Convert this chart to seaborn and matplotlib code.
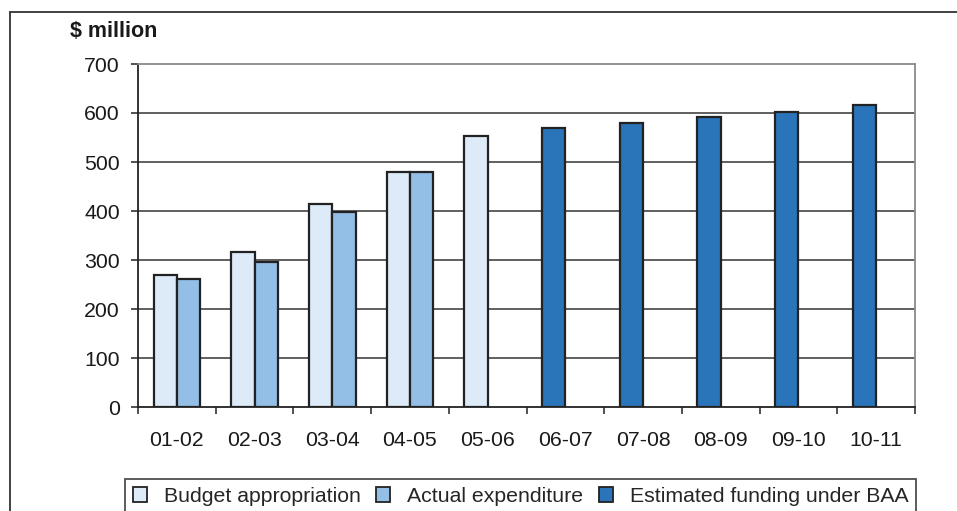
import matplotlib
matplotlib.use("Agg")
import matplotlib.pyplot as plt
from matplotlib.lines import Line2D
from matplotlib.patches import Patch
import seaborn as sns
import pandas as pd

# Financial years shown on the x axis
years = ["01-02", "02-03", "03-04", "04-05", "05-06",
         "06-07", "07-08", "08-09", "09-10", "10-11"]

# $ million by series (None where a series has no figure for that year)
budget_appropriation = [269, 316, 414, 480, 554, None, None, None, None, None]
actual_expenditure = [261, 296, 398, 480, None, None, None, None, None, None]
estimated_funding = [None, None, None, None, None, 569, 580, 592, 603, 616]

series_names = ["Budget appropriation", "Actual expenditure",
                "Estimated funding under BAA"]
series_colors = {"Budget appropriation": "#DDEAF7",
                 "Actual expenditure": "#93BFE6",
                 "Estimated funding under BAA": "#2A74BA"}

# Budget and estimated figures share the left slot, actual spending sits right
rows = []
for i, y in enumerate(years):
    if budget_appropriation[i] is not None:
        rows.append((y, "left", budget_appropriation[i], series_names[0]))
    if estimated_funding[i] is not None:
        rows.append((y, "left", estimated_funding[i], series_names[2]))
    if actual_expenditure[i] is not None:
        rows.append((y, "right", actual_expenditure[i], series_names[1]))
df = pd.DataFrame(rows, columns=["year", "slot", "value", "series"])
kind_of = {(r.year, r.slot): r.series for r in df.itertuples()}

sns.set_style("white")
plt.rcParams["font.family"] = ["Liberation Sans", "DejaVu Sans"]

W, H = 957, 511
fig = plt.figure(figsize=(W / 100, H / 100), dpi=100)
ax = fig.add_axes([138 / W, 1 - 407 / H, (915 - 138) / W, (407 - 64) / H])

sns.barplot(data=df, x="year", y="value", hue="slot", order=years,
            hue_order=["left", "right"], dodge=True, width=0.6, gap=0,
            palette=["#DDEAF7", "#93BFE6"], edgecolor="#222222",
            linewidth=1.6, saturation=1, legend=False, ax=ax, zorder=3)

for p in ax.patches:
    c = p.get_x() + p.get_width() / 2
    idx = int(round(c))
    slot = "left" if c < idx else "right"
    kind = kind_of.get((years[idx], slot))
    if kind is not None:
        p.set_facecolor(series_colors[kind])

ax.set_ylim(0, 700)
ax.set_xlim(-0.5, len(years) - 0.5)
ax.set_yticks(range(0, 701, 100))
ax.set_xlabel("")
ax.set_ylabel("")

# Horizontal gridlines
for v in range(100, 700, 100):
    ax.axhline(v, color="#444444", lw=1.2, zorder=1)

for side in ["top", "right"]:
    ax.spines[side].set_color("#8a8a8a")
    ax.spines[side].set_linewidth(1.3)
for side in ["left", "bottom"]:
    ax.spines[side].set_color("#222222")
    ax.spines[side].set_linewidth(1.3)

ax.tick_params(axis="y", which="major", direction="out", length=5, width=1.1,
               color="#222222", labelsize=15.3, labelcolor="#1a1a1a", pad=8,
               left=True)
ax.tick_params(axis="x", which="major", length=0, labelsize=15.3,
               labelcolor="#1a1a1a", pad=17)
ax.set_xticks([i - 0.5 for i in range(len(years) + 1)], minor=True)
ax.tick_params(axis="x", which="minor", direction="out", length=5, width=1.1,
               color="#222222", bottom=True)

fig.text(70 / W, 1 - 31 / H, "$ million", fontsize=15.5, fontweight="bold",
         ha="left", va="center", color="#1a1a1a")

# Outer frame around the figure
fig.add_artist(Line2D([10 / W, 10 / W], [0, 1 - 12.5 / H], transform=fig.transFigure,
                      color="#333333", lw=1.3))
fig.add_artist(Line2D([10 / W, 1], [1 - 12.5 / H, 1 - 12.5 / H],
                      transform=fig.transFigure, color="#333333", lw=1.3))

handles = [Patch(facecolor=series_colors[n], edgecolor="#222222", lw=1.3)
           for n in series_names]
leg = fig.legend(handles, series_names, loc="upper left",
                 bbox_to_anchor=(125 / W, 1 - 479 / H), ncol=3, fontsize=15.3,
                 frameon=True, fancybox=False, edgecolor="#222222",
                 handlelength=0.66, handleheight=0.66, handletextpad=0.8,
                 columnspacing=0.72, borderpad=0.38, borderaxespad=0)
leg.get_frame().set_linewidth(1.3)

fig.savefig("out.png", dpi=100)
